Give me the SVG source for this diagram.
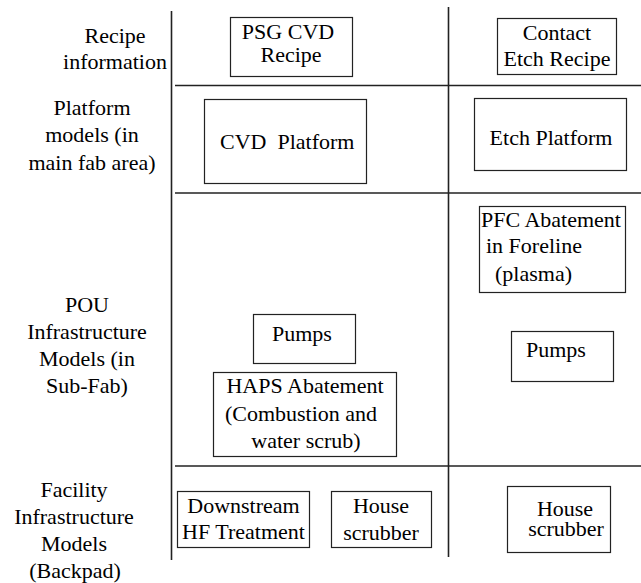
<svg xmlns="http://www.w3.org/2000/svg" width="641" height="583" viewBox="0 0 641 583">
<rect width="641" height="583" fill="#fff"/>
<g id="grid" stroke="#222" stroke-width="1.6" fill="none">
<line x1="171.5" y1="11" x2="171.5" y2="560"/>
<line x1="448.5" y1="7" x2="448.5" y2="557"/>
<line x1="175" y1="85.5" x2="641" y2="85.5"/>
<line x1="175" y1="193" x2="641" y2="193"/>
<line x1="175" y1="466" x2="641" y2="466"/>
</g>
<g id="row-labels">
<g id="label-recipe"><text font-family="Liberation Serif" font-size="22" text-anchor="middle" x="115" y="43">Recipe</text><text font-family="Liberation Serif" font-size="22" text-anchor="middle" x="115" y="69">information</text></g>
<g id="label-platform"><text font-family="Liberation Serif" font-size="22" text-anchor="middle" x="92" y="115">Platform</text><text font-family="Liberation Serif" font-size="22" text-anchor="middle" x="92" y="142">models (in</text><text font-family="Liberation Serif" font-size="22" text-anchor="middle" x="92" y="170">main fab area)</text></g>
<g id="label-pou"><text font-family="Liberation Serif" font-size="22" text-anchor="middle" x="87" y="312">POU</text><text font-family="Liberation Serif" font-size="22" text-anchor="middle" x="87" y="339">Infrastructure</text><text font-family="Liberation Serif" font-size="22" text-anchor="middle" x="87" y="366">Models (in</text><text font-family="Liberation Serif" font-size="22" text-anchor="middle" x="87" y="393">Sub-Fab)</text></g>
<g id="label-facility"><text font-family="Liberation Serif" font-size="22" text-anchor="middle" x="74" y="497">Facility</text><text font-family="Liberation Serif" font-size="22" text-anchor="middle" x="74" y="524">Infrastructure</text><text font-family="Liberation Serif" font-size="22" text-anchor="middle" x="74" y="551">Models</text><text font-family="Liberation Serif" font-size="22" text-anchor="middle" x="75" y="578">(Backpad)</text></g>
</g>
<g id="psg-cvd-recipe"><rect x="230.5" y="17.5" width="122" height="59" fill="#fff" stroke="#222" stroke-width="1.2"/><text font-family="Liberation Serif" font-size="22" text-anchor="middle" x="288" y="39">PSG CVD</text><text font-family="Liberation Serif" font-size="22" text-anchor="middle" x="291" y="62">Recipe</text></g>
<g id="contact-etch-recipe"><rect x="497.5" y="18.5" width="119" height="56" fill="#fff" stroke="#222" stroke-width="1.2"/><text font-family="Liberation Serif" font-size="22" text-anchor="middle" x="557" y="40">Contact</text><text font-family="Liberation Serif" font-size="22" text-anchor="middle" x="557" y="66">Etch Recipe</text></g>
<g id="cvd-platform"><rect x="204.5" y="99.5" width="162" height="84" fill="#fff" stroke="#222" stroke-width="1.2"/><text font-family="Liberation Serif" font-size="22" x="220" y="149">CVD&#160; Platform</text></g>
<g id="etch-platform"><rect x="474.5" y="98.5" width="152" height="72" fill="#fff" stroke="#222" stroke-width="1.2"/><text font-family="Liberation Serif" font-size="22" text-anchor="middle" x="551" y="145">Etch Platform</text></g>
<g id="pfc-abatement"><rect x="479.5" y="206.5" width="146" height="86" fill="#fff" stroke="#222" stroke-width="1.2"/><text font-family="Liberation Serif" font-size="22" x="481" y="227">PFC Abatement</text><text font-family="Liberation Serif" font-size="22" x="486" y="253">in Foreline</text><text font-family="Liberation Serif" font-size="22" x="495" y="281">(plasma)</text></g>
<g id="pumps-etch"><rect x="511.5" y="331.5" width="102" height="50" fill="#fff" stroke="#222" stroke-width="1.2"/><text font-family="Liberation Serif" font-size="22" x="526" y="357">Pumps</text></g>
<g id="pumps-cvd"><rect x="253.5" y="314.5" width="102" height="49" fill="#fff" stroke="#222" stroke-width="1.2"/><text font-family="Liberation Serif" font-size="22" x="272" y="341">Pumps</text></g>
<g id="haps-abatement"><rect x="213.5" y="372.5" width="183" height="84" fill="#fff" stroke="#222" stroke-width="1.2"/><text font-family="Liberation Serif" font-size="22" text-anchor="middle" x="305" y="393">HAPS Abatement</text><text font-family="Liberation Serif" font-size="22" text-anchor="middle" x="301" y="421">(Combustion and</text><text font-family="Liberation Serif" font-size="22" text-anchor="middle" x="306" y="448">water scrub)</text></g>
<g id="downstream-hf"><rect x="177.5" y="491.5" width="132" height="56" fill="#fff" stroke="#222" stroke-width="1.2"/><text font-family="Liberation Serif" font-size="22" text-anchor="middle" x="243.5" y="513">Downstream</text><text font-family="Liberation Serif" font-size="22" text-anchor="middle" x="243.5" y="539">HF Treatment</text></g>
<g id="house-scrubber-cvd"><rect x="331.5" y="491.5" width="100" height="56" fill="#fff" stroke="#222" stroke-width="1.2"/><text font-family="Liberation Serif" font-size="22" text-anchor="middle" x="381" y="513">House</text><text font-family="Liberation Serif" font-size="22" text-anchor="middle" x="381" y="540">scrubber</text></g>
<g id="house-scrubber-etch"><rect x="507.5" y="486.5" width="103" height="66" fill="#fff" stroke="#222" stroke-width="1.2"/><text font-family="Liberation Serif" font-size="22" text-anchor="middle" x="565" y="516">House</text><text font-family="Liberation Serif" font-size="22" text-anchor="middle" x="566" y="536">scrubber</text></g>
</svg>
